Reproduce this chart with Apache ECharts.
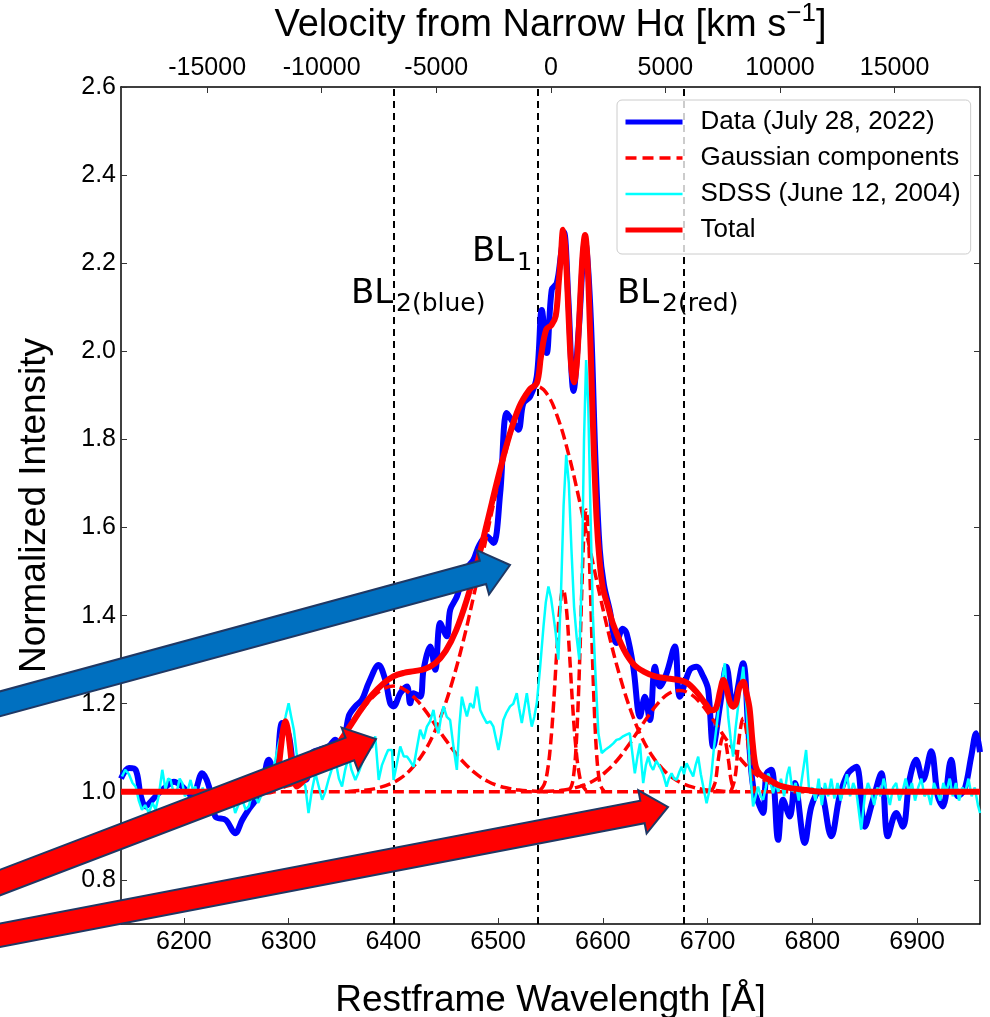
<!DOCTYPE html>
<html><head><meta charset="utf-8">
<script src="https://cdn.jsdelivr.net/npm/echarts@6/dist/echarts.min.js"></script>
<style>html,body{margin:0;padding:0;background:#fff}#c{width:990px;height:1017px}</style>
</head><body><div id="c"></div>
<script>
// ---------- Data ----------
const dataWl = [6140,6147.6,6154,6159,6163.5,6170,6176,6183,6190.5,6198.5,6208,6217.5,6224,6230,6240,6249,6255.7,6262,6268,6274.7,6281,6287.4,6293.8,6300,6308,6316,6322.4,6328.7,6338.2,6344.6,6351,6357.3,6363.7,6370,6376.4,6386,6392.3,6397,6400.2,6406.6,6413,6416,6419.3,6425.6,6428.8,6435.2,6440,6444.7,6451,6454.2,6460.6,6465.4,6471,6476.5,6482,6489.2,6495.5,6502,6508.3,6514.6,6519.4,6524.1,6530.5,6536.9,6541.7,6546.4,6551.2,6556,6560,6563,6567,6572,6577,6583,6588,6593,6597,6601,6606.5,6613,6619,6622.6,6629,6635.4,6640.1,6644.9,6649.7,6654.4,6660.8,6668.7,6673.5,6683,6689.4,6695.8,6700.5,6705.3,6711.7,6718,6724.3,6733.8,6738.6,6743.4,6749.8,6753,6756.2,6761,6767.3,6772,6778.4,6783.2,6792.7,6799,6807,6818,6826,6834,6842,6850,6857.8,6865.8,6872,6880,6886.4,6892.7,6899,6905.5,6913.4,6919.7,6924.5,6932.5,6938.8,6945.2,6951.6,6956.3,6960];
const dataFlux = [1.03,1.054,1.05,0.99,0.967,0.982,0.997,1.012,1.023,1.012,0.99,1.042,1.012,0.944,0.936,0.906,0.936,0.96,0.98,1.012,1.073,1.035,1.156,1.13,1.027,1.027,1.088,1.095,1.103,1.118,1.095,1.171,1.194,1.209,1.247,1.288,1.254,1.201,1.194,1.224,1.239,1.201,1.224,1.216,1.277,1.33,1.277,1.383,1.353,1.413,1.443,1.481,1.51,1.527,1.56,1.58,1.565,1.679,1.86,1.837,1.822,1.882,1.897,1.943,2.094,1.996,2.14,2.155,2.22,2.27,2.12,1.91,2.05,2.25,2.1,1.75,1.55,1.47,1.413,1.338,1.37,1.36,1.284,1.171,1.216,1.163,1.284,1.239,1.269,1.33,1.216,1.277,1.284,1.262,1.232,1.103,1.194,1.284,1.194,1.292,1.148,1.012,0.967,0.952,1.042,1.05,0.891,0.982,0.944,1.02,0.884,0.967,1.005,0.899,0.99,1.042,1.057,0.921,0.982,1.042,0.899,0.952,0.921,1.027,1.073,1.027,1.092,0.99,0.967,1.073,0.99,1.005,1.08,1.133,1.09];

const sdssWl = [6141,6144,6147.6,6151,6154,6157,6160,6163,6166.6,6170,6173,6176,6179.4,6182.5,6185,6187.3,6190,6193.7,6196,6198.5,6201,6203,6206.4,6209,6211,6213,6216,6218,6220.7,6223,6225.5,6228,6230,6233,6236.6,6240,6243,6246,6249,6252,6255.7,6259,6262,6265,6268,6271,6274.7,6278,6281,6284,6287.4,6290.5,6293.8,6297,6300,6302.5,6305,6307.5,6309.7,6313,6316,6319,6322,6325.6,6329,6332,6335,6338,6341,6344.6,6348,6351,6354,6357.3,6360,6363.7,6367,6370,6373,6376.4,6379.5,6382.7,6386,6389,6392.3,6395,6398.7,6400.2,6403,6406.6,6410,6413,6416,6419.3,6422.5,6425.6,6429,6432,6435,6438.3,6440.7,6443.1,6445.5,6447.9,6451,6454.2,6457.5,6460.6,6463,6465.4,6468,6470.2,6473.3,6476.5,6479.7,6482.9,6486,6489.2,6492.5,6495.5,6498,6500.3,6503,6505,6508,6511.4,6514.5,6517.8,6520,6522.6,6525,6527.4,6530,6532.1,6534.5,6536.9,6540,6543.3,6545.5,6548,6550.5,6552.8,6555,6557.5,6560,6562.5,6565,6567.5,6570,6572.5,6575,6577.5,6580,6582,6584,6586,6588.5,6590.5,6592.6,6595.7,6598.9,6602,6606.6,6610,6613,6616,6619.3,6622.5,6625.7,6628,6630.5,6633,6635.4,6637,6638.5,6641,6643.3,6645.5,6648,6651,6654.4,6657.5,6660.8,6663,6665.6,6668,6670.4,6673,6675.1,6677.5,6679.9,6683,6686.2,6688.5,6691,6693.5,6695.8,6699,6701.5,6703.7,6706,6708.5,6711,6713.3,6716.4,6719.6,6722,6724.3,6726.5,6729.1,6731.5,6734,6737,6740.2,6743.4,6745.8,6748.2,6750.6,6753,6755.5,6757.7,6760,6762.5,6765,6767.5,6770,6773,6776,6778,6781,6784,6787,6790,6794,6797,6800,6803,6806,6809,6812,6815,6818,6821,6824,6827,6830,6833,6836,6839,6842,6846.6,6850,6853,6856,6859,6862,6865,6868,6871,6874,6877,6880,6883,6886,6889,6892,6895,6898,6901,6904,6907,6910,6913,6916,6919,6922,6925,6928,6931,6934,6937,6940,6943,6946,6949,6952,6955,6958,6960];
const sdssFlux = [1.035,1.05,1.04,1.02,1.012,0.98,0.959,0.97,0.952,0.975,0.96,0.99,1.05,1.005,1.03,1.027,1.0,1.005,1.03,1.02,0.99,0.997,1.027,1.0,1.012,0.98,0.99,1.01,0.982,0.995,0.967,0.985,0.952,0.975,0.974,0.99,0.967,0.985,0.952,0.97,0.982,0.96,0.967,0.995,0.99,0.975,0.997,1.01,1.027,1.04,1.073,1.11,1.141,1.17,1.201,1.17,1.141,1.09,1.057,1.03,1.012,0.952,1.0,1.042,1.01,0.982,1.0,1.027,1.05,1.073,1.03,1.012,1.05,1.08,1.05,1.027,1.045,1.065,1.09,1.118,1.1,1.126,1.027,1.06,1.08,1.095,1.095,1.027,1.06,1.103,1.08,1.08,1.07,1.057,1.1,1.141,1.12,1.148,1.16,1.186,1.15,1.133,1.17,1.194,1.17,1.163,1.1,1.05,1.15,1.216,1.19,1.171,1.201,1.19,1.239,1.186,1.17,1.156,1.16,1.148,1.12,1.095,1.13,1.163,1.18,1.194,1.2,1.224,1.19,1.156,1.19,1.224,1.18,1.148,1.17,1.201,1.28,1.375,1.43,1.466,1.44,1.4,1.36,1.3,1.45,1.65,1.765,1.7,1.55,1.42,1.35,1.3,1.5,1.8,1.98,1.88,1.6,1.4,1.284,1.133,1.088,1.095,1.103,1.11,1.118,1.12,1.126,1.13,1.133,1.09,1.042,1.08,1.11,1.06,1.02,1.06,1.08,1.06,1.05,1.07,1.057,1.04,1.012,1.03,1.042,1.03,1.027,1.045,1.057,1.04,1.065,1.05,1.035,1.06,1.08,1.04,1.012,0.974,1.0,1.042,1.1,1.148,1.2,1.247,1.292,1.171,1.12,1.08,1.14,1.194,1.24,1.284,1.194,1.057,0.967,0.99,1.012,0.99,0.982,1.01,1.042,1.02,0.997,1.02,1.0,1.03,0.99,1.04,1.057,1.0,1.02,0.98,1.03,1.095,1.0,1.01,0.98,1.03,0.97,1.02,0.99,1.03,0.985,1.02,0.98,1.01,1.04,0.99,1.02,1.0,0.914,0.99,1.02,1.0,0.97,1.01,0.99,1.03,1.0,0.97,1.01,1.02,0.98,1.0,1.03,1.0,1.02,0.98,1.01,1.03,0.99,1.0,0.97,1.02,1.0,0.98,1.02,1.0,1.03,0.99,1.02,0.98,1.01,1.0,1.03,0.99,1.01,0.97,0.952];

const totalWl = [6140,6280,6286,6290,6293,6295,6297,6299,6301,6304,6308,6312,6320,6330,6340,6350,6360,6370,6380,6390,6400,6410,6420,6430,6440,6450,6460,6470,6480,6490,6500,6510,6520,6530,6537,6541,6546,6551,6555,6558,6560,6562,6564,6566,6568,6570,6572.5,6575,6577,6579,6581,6583,6585,6587,6589,6591,6594,6597,6600,6605,6610,6620,6630,6640,6650,6660,6670,6680,6690,6698,6704,6708,6712,6715,6718,6721,6724,6727,6730,6734,6737,6740,6743,6746,6750,6759,6768,6778,6794,6810,6960];
const totalFlux = [1.0,1.0,1.008,1.048,1.108,1.145,1.16,1.145,1.108,1.048,1.012,1.02,1.039,1.06,1.086,1.118,1.154,1.19,1.221,1.245,1.262,1.27,1.274,1.279,1.292,1.32,1.367,1.435,1.519,1.616,1.714,1.803,1.873,1.913,1.928,1.99,2.05,2.06,2.08,2.16,2.22,2.276,2.24,2.15,2.04,1.96,1.93,1.97,2.05,2.15,2.23,2.264,2.22,2.1,1.95,1.8,1.62,1.52,1.463,1.42,1.379,1.323,1.288,1.272,1.262,1.258,1.255,1.248,1.225,1.2,1.185,1.19,1.23,1.254,1.235,1.205,1.194,1.2,1.235,1.25,1.225,1.19,1.11,1.057,1.04,1.027,1.015,1.009,1.004,1.0,1.0];

// Gaussian components (dashed)
const compBaseWl = [6140,6960];
const compBaseFlux = [1.0,1.0];
const compOIWl = [6284,6288,6291,6294,6297,6300,6303,6306,6310];
const compOIFlux = [1.0,1.021,1.066,1.128,1.16,1.128,1.066,1.021,1.0];
const compBlueWl = [6280,6290,6300,6310,6320,6330,6340,6350,6360,6370,6380,6390,6400,6410,6420,6430,6440,6450,6460,6470,6480,6490,6500,6510,6520,6530,6540];
const compBlueFlux = [1.004,1.008,1.014,1.024,1.039,1.06,1.086,1.118,1.152,1.186,1.214,1.233,1.24,1.233,1.214,1.186,1.152,1.118,1.086,1.06,1.039,1.024,1.014,1.008,1.004,1.002,1.001];
const compBroadWl = [6357,6367,6377,6387,6397,6407,6417,6427,6437,6447,6457,6467,6477,6487,6497,6507,6517,6527,6537,6547,6557,6567,6577,6587,6597,6607,6617,6627,6637,6647,6657,6667,6677,6687,6697,6707,6717];
const compBroadFlux = [1.001,1.003,1.005,1.01,1.018,1.031,1.052,1.082,1.124,1.182,1.256,1.345,1.448,1.558,1.668,1.769,1.849,1.902,1.92,1.902,1.849,1.769,1.668,1.558,1.448,1.345,1.256,1.182,1.124,1.082,1.052,1.031,1.018,1.01,1.005,1.003,1.001];
const compHaWl = [6540,6544,6547,6550,6553,6556,6559,6562,6565,6568,6571,6574,6577,6580,6584];
const compHaFlux = [1.003,1.017,1.046,1.106,1.201,1.319,1.42,1.46,1.42,1.319,1.201,1.106,1.046,1.017,1.003];
const compNIIWl = [6567,6570,6572,6574,6576,6578,6580,6582,6584,6586,6588,6590,6592,6594,6596,6598,6601];
const compNIIFlux = [1.002,1.013,1.036,1.087,1.178,1.31,1.465,1.59,1.64,1.59,1.465,1.31,1.178,1.087,1.036,1.013,1.002];
const compRedWl = [6543,6553,6563,6573,6583,6593,6603,6613,6623,6633,6643,6653,6663,6673,6683,6693,6703,6713,6723,6733,6743,6753,6763,6773,6783,6793,6803];
const compRedFlux = [1.001,1.002,1.004,1.009,1.016,1.028,1.046,1.07,1.101,1.136,1.171,1.202,1.223,1.23,1.223,1.202,1.171,1.136,1.101,1.07,1.046,1.028,1.016,1.009,1.004,1.002,1.001];
const compSIIaWl = [6703,6707,6710,6713,6715,6717,6720,6723,6727];
const compSIIaFlux = [1.0,1.02,1.07,1.115,1.125,1.115,1.07,1.02,1.0];
const compSIIbWl = [6722,6726,6729,6732,6734,6736,6739,6742,6746];
const compSIIbFlux = [1.0,1.03,1.1,1.153,1.167,1.153,1.1,1.03,1.0];

// Reference lines and ticks
const blLines = [6400, 6537.5, 6677.5];
const waveTicks = [6200,6300,6400,6500,6600,6700,6800,6900];
const velTicks = [-15000,-10000,-5000,0,5000,10000,15000];
const yTicks = [0.8,1.0,1.2,1.4,1.6,1.8,2.0,2.2,2.4,2.6];

// ---------- Chart ----------
const zip = (a, b) => a.map((v, i) => [v, b[i]]);
const FONT = '"Liberation Sans", Arial, sans-serif';
const DV = '"DejaVu Sans", sans-serif';
const chart = echarts.init(document.getElementById('c'), null, {renderer: 'canvas'});

const dashStyle = {color: '#ff0000', width: 3.5, type: [11, 5]};
function comp(wl, fl) {
  return {name: 'Gaussian components', type: 'line', data: zip(wl, fl), symbol: 'none', smooth: 0.4,
    lineStyle: dashStyle, itemStyle: {color: '#ff0000'}, z: 3, silent: true};
}

function arrowPts(t, p, sw, hw, hl) {
  const dx = p[0] - t[0], dy = p[1] - t[1], L = Math.hypot(dx, dy);
  const ux = dx / L, uy = dy / L, nx = -uy, ny = ux;
  const bx = p[0] - ux * hl, by = p[1] - uy * hl;
  return [[t[0] + nx * sw / 2, t[1] + ny * sw / 2], [bx + nx * sw / 2, by + ny * sw / 2], [bx + nx * hw / 2, by + ny * hw / 2],
    [p[0], p[1]], [bx - nx * hw / 2, by - ny * hw / 2], [bx - nx * sw / 2, by - ny * sw / 2], [t[0] - nx * sw / 2, t[1] - ny * sw / 2]];
}

const tickStyle = {show: true, inside: true, length: 6, lineStyle: {color: '#333', width: 1}};
const axisLine = {show: true, onZero: false, lineStyle: {color: '#000', width: 1.5}};

const option = {
  animation: false,
  backgroundColor: '#ffffff',
  grid: {left: 121, right: 10, top: 87, bottom: 93, containLabel: false, outerBoundsMode: 'none'},
  xAxis: [
    {type: 'value', position: 'bottom', min: 6140, max: 6960,
     axisLine: axisLine, splitLine: {show: false},
     axisTick: Object.assign({customValues: waveTicks}, tickStyle),
     axisLabel: {customValues: waveTicks, formatter: v => String(v), fontSize: 25, fontFamily: FONT, color: '#000', margin: 6},
     name: 'Restframe Wavelength [Å]', nameLocation: 'middle', nameGap: 58,
     nameTextStyle: {fontSize: 37, fontFamily: FONT, color: '#000'}},
    {type: 'value', position: 'top', min: -18760, max: 18730,
     axisLine: axisLine, splitLine: {show: false},
     axisTick: Object.assign({customValues: velTicks}, tickStyle),
     axisLabel: {customValues: velTicks, formatter: v => String(v), fontSize: 25, fontFamily: FONT, color: '#000', margin: 6},
     name: '{a|Velocity from Narrow Hα [km s}{s|−1}{a|]}', nameLocation: 'middle', nameGap: 36,
     nameTextStyle: {fontSize: 38, fontFamily: FONT, color: '#000',
       rich: {a: {fontSize: 38, lineHeight: 50, fontFamily: FONT, color: '#000'},
              s: {fontSize: 26, lineHeight: 25, verticalAlign: 'top', fontFamily: FONT, color: '#000'}}}}
  ],
  yAxis: [
    {type: 'value', position: 'left', min: 0.7, max: 2.6,
     axisLine: axisLine, splitLine: {show: false},
     axisTick: Object.assign({customValues: yTicks}, tickStyle),
     axisLabel: {customValues: yTicks, formatter: v => v.toFixed(1), fontSize: 25, fontFamily: FONT, color: '#000', margin: 5},
     name: 'Normalized Intensity', nameLocation: 'middle', nameGap: 68,
     nameTextStyle: {fontSize: 37, fontFamily: FONT, color: '#000'}},
    {type: 'value', position: 'right', min: 0.7, max: 2.6,
     axisLine: axisLine, splitLine: {show: false},
     axisTick: Object.assign({customValues: yTicks}, tickStyle),
     axisLabel: {show: false}}
  ],
  legend: {
    orient: 'vertical', left: 617, top: 100, itemWidth: 57, itemHeight: 14, itemGap: 10,
    padding: [9, 10, 11, 6], backgroundColor: 'rgba(255,255,255,0.8)', borderColor: '#cccccc',
    borderWidth: 1, borderRadius: 5, selectedMode: false, z: 10,
    itemStyle: {opacity: 0},
    textStyle: {fontSize: 26, fontFamily: FONT, color: '#000', padding: [0, 0, 0, 13]},
    data: [
      {name: 'Data (July 28, 2022)', itemStyle: {opacity: 0}, lineStyle: {color: '#0000ff', width: 5}},
      {name: 'Gaussian components', itemStyle: {opacity: 0}, lineStyle: {color: '#ff0000', width: 3.5, type: [11, 6]}},
      {name: 'SDSS (June 12, 2004)', itemStyle: {opacity: 0}, lineStyle: {color: '#00ffff', width: 2.5}},
      {name: 'Total', itemStyle: {opacity: 0}, lineStyle: {color: '#ff0000', width: 5}}
    ]
  },
  series: [
    {name: 'BL', type: 'line', data: [], silent: true, z: 1,
     markLine: {symbol: 'none', silent: true, z: 1, label: {show: false},
       lineStyle: {color: '#000', width: 2, type: [7, 5]},
       data: blLines.map(v => ({xAxis: v}))}},
    {name: 'Data (July 28, 2022)', type: 'line', data: zip(dataWl, dataFlux), symbol: 'none', smooth: 0.35,
     lineStyle: {color: '#0000ff', width: 6}, itemStyle: {color: '#0000ff'}, z: 2, silent: true},
    comp(compBaseWl, compBaseFlux),
    comp(compOIWl, compOIFlux),
    comp(compBlueWl, compBlueFlux),
    comp(compBroadWl, compBroadFlux),
    comp(compHaWl, compHaFlux),
    comp(compNIIWl, compNIIFlux),
    comp(compRedWl, compRedFlux),
    comp(compSIIaWl, compSIIaFlux),
    comp(compSIIbWl, compSIIbFlux),
    {name: 'SDSS (June 12, 2004)', type: 'line', data: zip(sdssWl, sdssFlux), symbol: 'none',
     lineStyle: {color: '#00ffff', width: 2.5}, itemStyle: {color: '#00ffff'}, z: 4, silent: true},
    {name: 'Total', type: 'line', data: zip(totalWl, totalFlux), symbol: 'none', smooth: 0.35,
     lineStyle: {color: '#ff0000', width: 6}, itemStyle: {color: '#ff0000'}, z: 5, silent: true}
  ],
  graphic: {elements: [
    {type: 'text', x: 472, y: 252, z: 50, style: {text: 'BL', fontSize: 34, fontFamily: DV, fill: '#000', align: 'left', verticalAlign: 'middle'}},
    {type: 'text', x: 517, y: 264, z: 50, style: {text: '1', fontSize: 24, fontFamily: DV, fill: '#000', align: 'left', verticalAlign: 'middle'}},
    {type: 'text', x: 351, y: 294, z: 50, style: {text: 'BL', fontSize: 34, fontFamily: DV, fill: '#000', align: 'left', verticalAlign: 'middle'}},
    {type: 'text', x: 396, y: 304, z: 50, style: {text: '2(blue)', fontSize: 25, fontFamily: DV, fill: '#000', align: 'left', verticalAlign: 'middle'}},
    {type: 'text', x: 617, y: 294, z: 50, style: {text: 'BL', fontSize: 34, fontFamily: DV, fill: '#000', align: 'left', verticalAlign: 'middle'}},
    {type: 'text', x: 662, y: 304, z: 50, style: {text: '2(red)', fontSize: 25, fontFamily: DV, fill: '#000', align: 'left', verticalAlign: 'middle'}},
    {type: 'polygon', z: 100, shape: {points: arrowPts([-30, 712], [510, 565], 24, 46, 28)}, style: {fill: '#0070c0', stroke: '#1f3864', lineWidth: 2}},
    {type: 'polygon', z: 100, shape: {points: arrowPts([-30, 894], [376, 739], 24, 46, 28)}, style: {fill: '#ff0000', stroke: '#1f3864', lineWidth: 2}},
    {type: 'polygon', z: 100, shape: {points: arrowPts([-30, 941], [668, 807], 23, 44, 26)}, style: {fill: '#ff0000', stroke: '#1f3864', lineWidth: 2}}
  ]}
};
chart.setOption(option);
</script>
</body></html>
